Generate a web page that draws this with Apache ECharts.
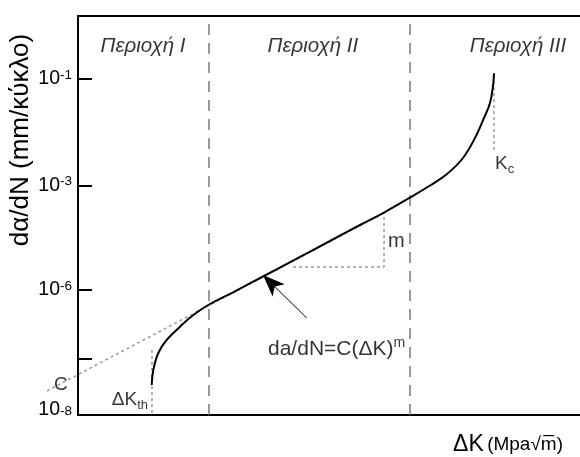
<!DOCTYPE html>
<html><head><meta charset="utf-8">
<script src="https://cdn.jsdelivr.net/npm/echarts@6/dist/echarts.min.js"></script>
<style>html,body{margin:0;padding:0;background:#fff}#c{width:580px;height:457px}</style>
</head><body><div id="c"></div>
<script>
// Schematic coordinates: x = ΔK position (0-100), y = log(da/dN) position (0-100)
const curveDK   = [14.68,15.0,16.0,17.67,20.32,22.97,25.96,30.88,36.85,42.83,50.2,56.18,60.96,66.14,70.12,73.51,76.69,79.28,80.88,82.07,82.67,82.87];
const curveRate = [7.52,11.28,15.54,18.8,22.13,25.06,27.57,30.73,34.71,38.7,43.61,47.62,50.75,54.51,57.52,60.4,64.41,69.92,74.44,78.2,82.46,85.64];

// Paris-law extrapolation line
const parisDK   = [-6.18, 60.96];
const parisRate = [6.02, 50.63];
// slope triangle
const triDK   = [42.83, 60.96, 60.96];
const triRate = [37.09, 37.09, 50.63];
// ΔKth and Kc markers
const kthDK = [14.74, 14.74];  const kthRate = [16.29, 0];
const kcDK  = [82.87, 82.87];  const kcRate  = [85.21, 65.9];
// arrow (tail -> head)
const arrowDK = [45.56, 36.85]; const arrowRate = [24.31, 35.09];
// region boundaries
const regionBounds = [25.96, 66.0];
const regionNames = ['Περιοχή I', 'Περιοχή II', 'Περιοχή III'];
const regionDK = [12.95, 46.8, 87.65];
const regionRate = [92.5, 92.5, 92.5];

// y tick positions and labels
const tickVals = [0, 14.11, 31.33, 57.52, 84.21];
const labelVals = [0, 31.33, 57.52, 84.21];
const labelExps = ['-8', '-6', '-3', '-1'];

// annotations
const annoText = ['C', '{m|ΔK}{sub|th}', '{m|K}{sub|c}', 'm', '{f|da/dN=C(ΔK)}{sup|m}'];
const annoDK   = [-3.39, 13.94, 83.07, 61.75, 37.85];
const annoRate = [7.52, 3.76, 62.9, 43.6, 16.54];

const FONT = 'Liberation Sans, Arial, sans-serif';
const zip = (a, b) => a.map((v, i) => [v, b[i]]);

const chart = echarts.init(document.getElementById('c'), null, {renderer: 'canvas'});
const dotted = {color: '#9a9a9a', width: 1.5, type: [3, 3]};
const annoAlign = ['center', 'right', 'left', 'left', 'left'];
const rich = {
  m: {fontSize: 19, fontFamily: FONT, color: '#000', lineHeight: 24},
  f: {fontSize: 21, fontFamily: FONT, color: '#000', lineHeight: 26},
  sub: {fontSize: 13, fontFamily: FONT, color: '#000', verticalAlign: 'bottom', lineHeight: 14},
  sup: {fontSize: 14, fontFamily: FONT, color: '#000', verticalAlign: 'top', lineHeight: 14}
};

chart.setOption({
  animation: false,
  grid: {left: 78, right: 0, top: 16, bottom: 42, outerBoundsMode: 'none', containLabel: false},
  xAxis: [{
    type: 'value', min: 0, max: 100, position: 'bottom',
    axisLine: {show: true, onZero: false, lineStyle: {color: '#000', width: 2}},
    axisTick: {show: false}, axisLabel: {show: false}, splitLine: {show: false},
    name: '{d|ΔK} {u|(Mpa\u221Am\u0305)}',
    nameLocation: 'end', nameGap: -17, nameMoveOverlap: false,
    nameTextStyle: {
      align: 'right', verticalAlign: 'middle', padding: [60, 0, 0, 0],
      rich: {
        d: {fontSize: 23, fontFamily: FONT, color: '#000'},
        u: {fontSize: 19, fontFamily: FONT, color: '#000'}
      }
    }
  }, {
    type: 'value', min: 0, max: 100, position: 'top',
    axisLine: {show: true, onZero: false, lineStyle: {color: '#000', width: 2}},
    axisTick: {show: false}, axisLabel: {show: false}, splitLine: {show: false}
  }],
  yAxis: {
    type: 'value', min: 0, max: 100,
    axisLine: {show: true, onZero: false, lineStyle: {color: '#000', width: 2}},
    axisTick: {show: true, inside: true, length: 14, customValues: tickVals, lineStyle: {color: '#000', width: 2}},
    axisLabel: {
      show: true, margin: 6, customValues: labelVals,
      formatter: function (v) {
        let i = labelVals.findIndex(t => Math.abs(t - v) < 0.01);
        if (i < 0) return '';
        return (i === 0 ? '{b8|10}' : '{b|10}') + '{s|' + labelExps[i] + '}';
      },
      rich: {
        b: {fontSize: 19.5, fontFamily: FONT, color: '#000', lineHeight: 22},
        b8: {fontSize: 19.5, fontFamily: FONT, color: '#000', lineHeight: 22, padding: [0, 0, 10, 0]},
        s: {fontSize: 13.5, fontFamily: FONT, color: '#000', verticalAlign: 'top', lineHeight: 14}
      }
    },
    splitLine: {show: false},
    name: 'dα/dN (mm/κύκλο)', nameLocation: 'middle', nameGap: 44, nameMoveOverlap: false,
    nameTextStyle: {fontSize: 26, fontFamily: FONT, color: '#000', padding: [0, 0, 0, 151]}
  },
  series: [
    {
      type: 'line', data: [], silent: true,
      markLine: {
        silent: true, symbol: ['none', 'none'], label: {show: false},
        lineStyle: {color: '#7a7a7a', width: 1.5, type: [11, 8]},
        data: regionBounds.map(v => ({xAxis: v}))
      }
    },
    {
      type: 'custom', clip: false, silent: true, z: 2,
      data: zip(parisDK, parisRate),
      renderItem: function (params, api) {
        if (params.dataIndex !== 0) return null;
        const pts = parisDK.map((x, i) => api.coord([x, parisRate[i]]));
        return {type: 'polyline', shape: {points: pts},
          style: {stroke: dotted.color, lineWidth: dotted.width, lineDash: dotted.type, fill: null}};
      }
    },
    {type: 'line', data: zip(triDK, triRate), showSymbol: false, symbol: 'none', lineStyle: dotted, z: 2},
    {type: 'line', data: zip(kthDK, kthRate), showSymbol: false, symbol: 'none', lineStyle: dotted, z: 2},
    {type: 'line', data: zip(kcDK, kcRate), showSymbol: false, symbol: 'none', lineStyle: dotted, z: 2},
    {type: 'line', data: zip(curveDK, curveRate), showSymbol: false, symbol: 'none', smooth: 0.4,
      lineStyle: {color: '#000', width: 2}, z: 5},
    {
      type: 'line', data: [], silent: true,
      markLine: {
        silent: true, symbol: ['none', 'arrow'], symbolSize: [13, 22], label: {show: false},
        lineStyle: {color: '#000', width: 1, type: 'solid'},
        itemStyle: {color: '#000'},
        data: [[{coord: [arrowDK[0], arrowRate[0]]}, {coord: [arrowDK[1], arrowRate[1]]}]]
      }, z: 6
    },
    {
      type: 'scatter', symbolSize: 0, clip: false, silent: true, z: 7,
      data: regionNames.map((n, i) => ({
        value: [regionDK[i], regionRate[i]],
        label: {show: true, position: 'inside', formatter: n, fontSize: 20.5, fontStyle: 'italic',
          fontFamily: FONT, color: '#000'}
      })).concat(annoText.map((t, i) => ({
        value: [annoDK[i], annoRate[i]],
        label: {show: true, position: 'inside', formatter: t, align: annoAlign[i],
          fontSize: i === 3 ? 20 : 19, fontFamily: FONT, color: '#000', rich: rich}
      })))
    }
  ]
});
</script></body></html>
